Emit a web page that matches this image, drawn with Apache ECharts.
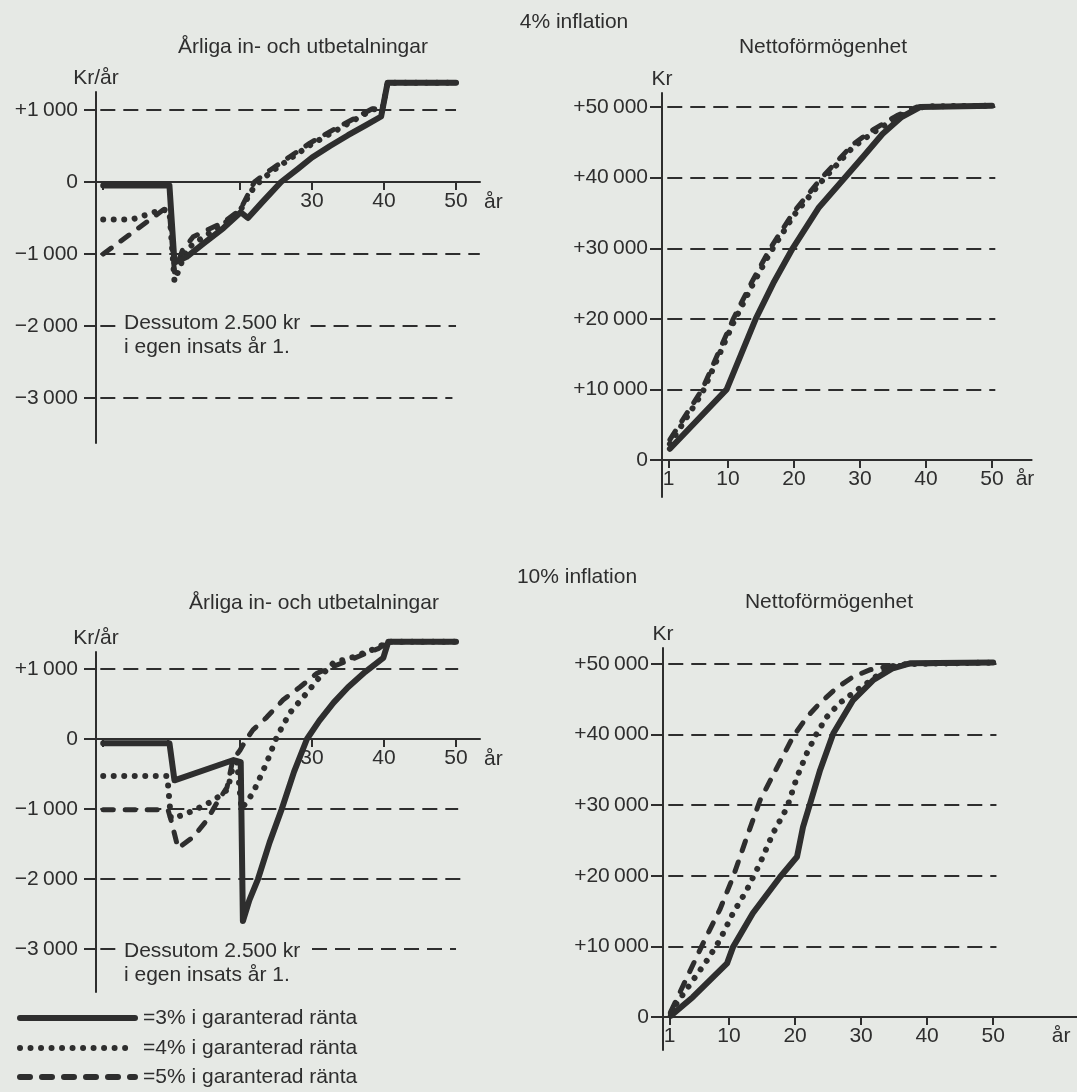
<!DOCTYPE html>
<html>
<head>
<meta charset="utf-8">
<script src="https://cdn.jsdelivr.net/npm/echarts@6/dist/echarts.min.js"></script>
<style>
  html, body { margin: 0; padding: 0; background: #e6e9e5; }
  #chart { width: 1077px; height: 1092px; }
</style>
</head>
<body>
<div id="chart"></div>
<script>
// Series names (guaranteed interest rate)
const rateNames = ['=3% i garanterad ränta', '=4% i garanterad ränta', '=5% i garanterad ränta'];

// Tick values
const flowTicks = [1000, 0, -1000, -2000, -3000];
const wealthTicks = [50000, 40000, 30000, 20000, 10000, 0];
const yearTicks = [1, 10, 20, 30, 40, 50];
const flowYearLabels = [30, 40, 50];
const wealthYearLabels = [1, 10, 20, 30, 40, 50];

// 4% inflation – annual payments (kr/år), [year, value]
const flowInf4Rate3 = [[1,-50],[10.2,-50],[10.9,-1120],[12.6,-1040],[15,-850],[17.7,-640],[20.1,-420],[21.1,-500],[23,-290],[25.7,0],[28,180],[30,340],[32.5,500],[35,650],[37.5,790],[39.6,910],[40.5,1380],[50,1380]];
const flowInf4Rate4 = [[1,-520],[5,-520],[9.3,-380],[10.2,-410],[10.9,-1380],[12.6,-930],[15,-760],[17.7,-590],[20,-400],[22,-60],[24.2,130],[26.9,320],[29.7,510],[33.4,720],[36.2,880],[38.5,1010],[39.8,1020],[40.5,1380],[50,1380]];
const flowInf4Rate5 = [[1,-1000],[9.3,-390],[10.2,-420],[10.9,-1250],[12,-950],[13.5,-760],[17.7,-560],[20,-390],[22,0],[24.2,167],[26.9,350],[29.7,540],[33.4,750],[36.2,900],[38.8,1040],[39.83,1030],[40.5,1380],[50,1380]];

// 4% inflation – net wealth (kr)
const wealthInf4Rate3 = [[1.2,1600],[9.8,10000],[12,15000],[14.2,20000],[17,25300],[19.8,30000],[23.7,35700],[27.7,40000],[30.5,43000],[33.4,46200],[36.3,48600],[39.1,50000],[50,50200]];
const wealthInf4Rate4 = [[1.2,2300],[6.1,9500],[10.8,19400],[13.6,24600],[16.4,29400],[20,34700],[24.2,39500],[28.9,44300],[32,46400],[35.6,48500],[38.6,49800],[40,50100],[50,50200]];
const wealthInf4Rate5 = [[1.2,2900],[6.1,10000],[10.8,20000],[13.6,25200],[16.4,30000],[20,35200],[24.2,40000],[28.9,44700],[32,46800],[35.6,48800],[38.6,50000],[50,50200]];

// 10% inflation – annual payments (kr/år)
const flowInf10Rate3 = [[1,-60],[10.2,-60],[10.9,-590],[19.1,-300],[20.1,-330],[20.4,-2600],[21.3,-2300],[22.5,-2000],[24.1,-1480],[25.8,-1000],[27.5,-470],[29.3,0],[31,260],[33,520],[35,740],[37.4,960],[39.9,1160],[40.6,1390],[50,1390]];
const flowInf10Rate4 = [[1,-530],[9.9,-530],[10.4,-1130],[12,-1090],[14,-1000],[16.3,-880],[18.3,-720],[19,-400],[19.6,-330],[20.2,-1000],[21.8,-770],[23.7,-340],[25.1,30],[26.9,370],[29.3,660],[31.1,890],[33,1090],[35.7,1170],[39,1300],[40.6,1390],[50,1390]];
const flowInf10Rate5 = [[1,-1010],[10,-1010],[10.4,-1150],[11.4,-1560],[13.5,-1400],[15.4,-1160],[16.8,-910],[18.2,-690],[19,-300],[20,-160],[20.9,0],[21.8,130],[23.7,310],[26,560],[28.3,740],[30.7,940],[33,1040],[35.3,1130],[37.6,1230],[39.2,1290],[40.6,1390],[50,1390]];

// 10% inflation – net wealth (kr)
const wealthInf10Rate3 = [[1.2,200],[4.5,2800],[9.7,7600],[10.6,9900],[13.6,14700],[17.7,19800],[20.3,22700],[21.2,26900],[22.3,30300],[23.8,35000],[25.8,40200],[28.8,44900],[31.8,47700],[34.8,49400],[37.4,50100],[50,50200]];
const wealthInf10Rate4 = [[1.2,600],[2.1,1980],[6.7,8070],[8.6,10900],[10.6,14700],[12.7,18000],[14.7,21800],[16.7,26100],[18.8,29700],[20.3,34000],[21.8,37400],[23.3,40200],[24.8,42500],[26.8,44500],[28.8,45900],[30.9,47300],[32.9,48700],[34.8,49600],[37,50000],[50,50200]];
const wealthInf10Rate5 = [[1.2,800],[6.1,10500],[8.6,15200],[10.6,19800],[12.7,25500],[14.7,30700],[17.3,35400],[19.7,39700],[21.8,42500],[23.8,44500],[26.4,46700],[28.8,48200],[31.4,49200],[33.9,49600],[36,50000],[50,50200]];

// Dashed reference lines: [value, fromYear, toYear]
const flowGuidesInf4 = [[1000,0.6,50],[-1000,0.6,53.3],[-2000,0.6,2.7],[-2000,29.8,50],[-3000,0.6,49.5]];
const wealthGuides = [[50000,0.8,50.5],[40000,0.8,50.5],[30000,0.8,50.5],[20000,0.8,50.5],[10000,0.8,50.5]];
const flowGuidesInf10 = [[1000,0.6,50.3],[-1000,0.6,50.3],[-2000,0.6,50.8],[-3000,0.6,2.7],[-3000,30,50]];

const INK = '#2e2e2e';
const FONT = '"Liberation Sans", Arial, Helvetica, sans-serif';

function kr(v) {
  if (v === 0) return '0';
  const s = Math.abs(v).toString().replace(/\B(?=(\d{3})+(?!\d))/g, '\u2009');
  return (v > 0 ? '+' : '\u2212') + s;
}

const lineStyles = [
  { color: INK, width: 6, type: 'solid', cap: 'round', join: 'round' },
  { color: INK, width: 6, type: [0.01, 10.5], cap: 'round', join: 'round' },
  { color: INK, width: 5, type: [10, 12], cap: 'round', join: 'round' }
];

function curves(idx, sets) {
  return sets.map((data, k) => ({
    type: 'line', name: rateNames[k], xAxisIndex: idx, yAxisIndex: idx,
    data: data, symbol: 'none', showSymbol: false, smooth: false, clip: false,
    lineStyle: lineStyles[k], itemStyle: { color: INK },
    z: 4 - k, silent: true, emphasis: { disabled: true }, animation: false
  }));
}

function guides(idx, rows) {
  return {
    type: 'line', xAxisIndex: idx, yAxisIndex: idx, data: [], silent: true, z: 1,
    animation: false,
    markLine: {
      silent: true, symbol: 'none', animation: false, label: { show: false },
      emphasis: { disabled: true },
      lineStyle: { type: [15, 8], width: 2, color: INK },
      data: rows.map(r => [{ coord: [r[1], r[0]] }, { coord: [r[2], r[0]] }])
    }
  };
}

// labelShift: distance from the grid's bottom edge up to the zero line
function yearAxis(grid, max, labels, named, labelShift) {
  return {
    type: 'value', gridIndex: grid, min: 0, max: max,
    name: named ? 'år' : '', nameLocation: 'end', nameGap: 4,
    nameTextStyle: { color: INK, fontSize: 21, fontFamily: FONT, verticalAlign: 'top', padding: [10, 0, 0, 0] },
    axisLine: { onZero: true, lineStyle: { color: INK, width: 2 } },
    axisTick: { customValues: yearTicks, length: 8, lineStyle: { color: INK, width: 2 } },
    axisLabel: { customValues: labels, margin: 9 - labelShift, color: INK, fontSize: 21, fontFamily: FONT,
      formatter: v => (v > 50 ? 'år' : String(v)) },
    splitLine: { show: false }
  };
}

function amountAxis(grid, min, max, ticks, name, margin) {
  return {
    type: 'value', gridIndex: grid, min: min, max: max,
    name: name, nameLocation: 'end', nameGap: 3,
    nameTextStyle: { color: INK, fontSize: 21, fontFamily: FONT, align: 'center' },
    axisLine: { lineStyle: { color: INK, width: 2 } },
    axisTick: { customValues: ticks, length: 12, lineStyle: { color: INK, width: 2 } },
    axisLabel: { customValues: ticks, margin: margin, color: INK, fontSize: 21, fontFamily: FONT, formatter: kr },
    splitLine: { show: false }
  };
}

function legendRow(name, top) {
  return {
    data: [name], orient: 'horizontal', left: 12, top: top,
    itemWidth: 115, itemHeight: 10, selectedMode: false,
    lineStyle: { width: 6 },
    itemStyle: { opacity: 0 },
    textStyle: { color: INK, fontSize: 21, fontFamily: FONT, lineHeight: 24, padding: [0, 0, 0, 3] }
  };
}

function label(text, x, y, align) {
  return { type: 'text', x: x, y: y, silent: true,
    style: { text: text, fill: INK, font: '21px ' + FONT, align: align || 'center', verticalAlign: 'middle', lineHeight: 24 } };
}

const chart = echarts.init(document.getElementById('chart'), null, { renderer: 'canvas' });

chart.setOption({
  backgroundColor: '#e6e9e5',
  animation: false,
  textStyle: { fontFamily: FONT },
  grid: [
    { left: 96, top: 92, width: 384, height: 351, outerBoundsMode: 'none' },
    { left: 662, top: 93, width: 369.6, height: 404, outerBoundsMode: 'none' },
    { left: 96, top: 652, width: 384, height: 340, outerBoundsMode: 'none' },
    { left: 663, top: 648, width: 414, height: 402, outerBoundsMode: 'none' }
  ],
  xAxis: [
    yearAxis(0, 53.33, flowYearLabels, true, 261),
    yearAxis(1, 56, wealthYearLabels.concat([55]), false, 37),
    yearAxis(2, 53.33, flowYearLabels, true, 253),
    yearAxis(3, 62.7, wealthYearLabels.concat([60.3]), false, 33)
  ],
  yAxis: [
    amountAxis(0, -3625, 1250, flowTicks, 'Kr/år', 18),
    amountAxis(1, -5240, 52000, wealthTicks, 'Kr', 14),
    amountAxis(2, -3614, 1243, flowTicks, 'Kr/år', 18),
    amountAxis(3, -4674, 52270, wealthTicks, 'Kr', 14)
  ],
  legend: [
    legendRow(rateNames[0], 1001),
    legendRow(rateNames[1], 1031),
    legendRow(rateNames[2], 1060)
  ],
  graphic: [
    label('4% inflation', 574, 22),
    label('Årliga in- och utbetalningar', 303, 47),
    label('Nettoförmögenhet', 823, 47),
    label('10% inflation', 577, 577),
    label('Årliga in- och utbetalningar', 314, 603),
    label('Nettoförmögenhet', 829, 602),
    label('Dessutom 2.500 kr\ni egen insats år 1.', 124, 335, 'left'),
    label('Dessutom 2.500 kr\ni egen insats år 1.', 124, 963, 'left')
  ],
  series: [].concat(
    guides(0, flowGuidesInf4),
    guides(1, wealthGuides),
    guides(2, flowGuidesInf10),
    guides(3, wealthGuides),
    curves(0, [flowInf4Rate3, flowInf4Rate4, flowInf4Rate5]),
    curves(1, [wealthInf4Rate3, wealthInf4Rate4, wealthInf4Rate5]),
    curves(2, [flowInf10Rate3, flowInf10Rate4, flowInf10Rate5]),
    curves(3, [wealthInf10Rate3, wealthInf10Rate4, wealthInf10Rate5])
  )
});
</script>
</body>
</html>
